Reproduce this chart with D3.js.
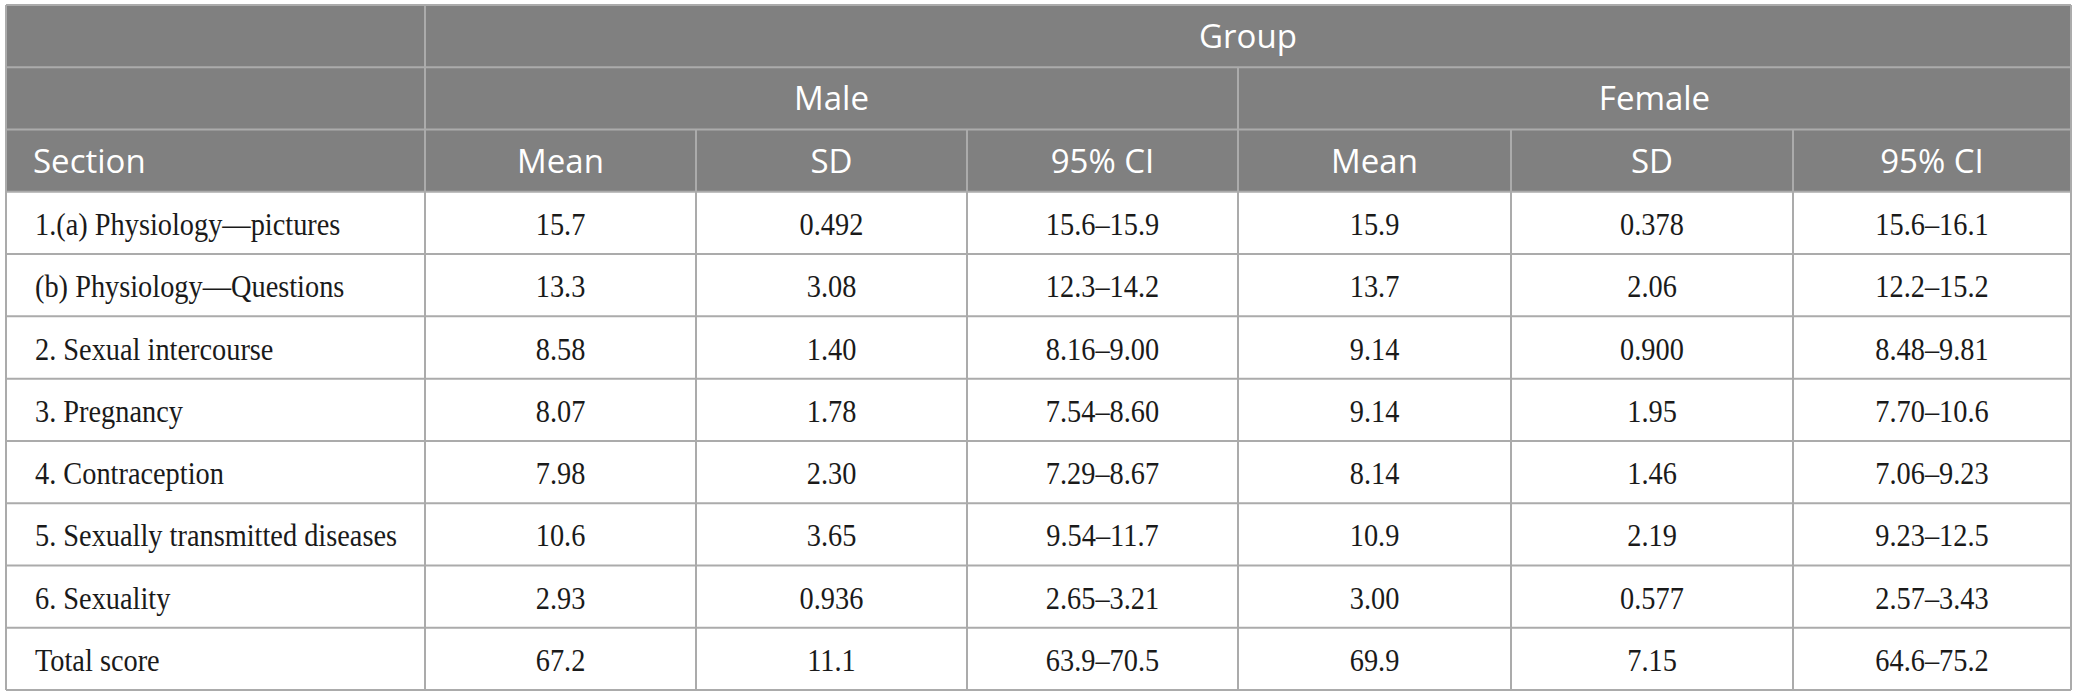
<!DOCTYPE html>
<html>
<head>
<meta charset="utf-8">
<script src="https://cdn.jsdelivr.net/npm/d3@7"></script>
<style>
  body { margin: 0; background: #fff; }
  svg { display: block; }
</style>
</head>
<body>
<svg width="2078" height="698"></svg>
<script>
// table contents
const sections = [
  '1.(a) Physiology—pictures',
  '(b) Physiology—Questions',
  '2. Sexual intercourse',
  '3. Pregnancy',
  '4. Contraception',
  '5. Sexually transmitted diseases',
  '6. Sexuality',
  'Total score'
];
const maleMean   = ['15.7', '13.3', '8.58', '8.07', '7.98', '10.6', '2.93', '67.2'];
const maleSD     = ['0.492', '3.08', '1.40', '1.78', '2.30', '3.65', '0.936', '11.1'];
const maleCI     = ['15.6–15.9', '12.3–14.2', '8.16–9.00', '7.54–8.60', '7.29–8.67', '9.54–11.7', '2.65–3.21', '63.9–70.5'];
const femaleMean = ['15.9', '13.7', '9.14', '9.14', '8.14', '10.9', '3.00', '69.9'];
const femaleSD   = ['0.378', '2.06', '0.900', '1.95', '1.46', '2.19', '0.577', '7.15'];
const femaleCI   = ['15.6–16.1', '12.2–15.2', '8.48–9.81', '7.70–10.6', '7.06–9.23', '9.23–12.5', '2.57–3.43', '64.6–75.2'];

const groupLabel = 'Group';
const sexLabels = ['Male', 'Female'];
const statLabels = ['Mean', 'SD', '95% CI'];
const sectionLabel = 'Section';

(function (d3) {
  'use strict';

  const svg = d3.select('svg');
  const width = +svg.attr('width');
  const height = +svg.attr('height');

  // layout
  const tLeft = 6, tRight = 2071, tTop = 5, tBottom = 690;
  const colWidths = [419, 271, 271, 271, 273, 282, 278];
  const colEdges = [tLeft];
  colWidths.forEach(w => colEdges.push(colEdges[colEdges.length - 1] + w));
  const x = i => colEdges[i];

  const nHeader = 3;
  const nRows = nHeader + sections.length;
  const yScale = d3.scaleBand()
    .domain(d3.range(nRows))
    .range([tTop, tBottom]);
  const rowH = yScale.bandwidth();
  const rowY = r => (r < nRows ? yScale(r) : tBottom);

  const headFill = '#808080';
  const lineCol = '#ababab';
  const bodyFont = '"Liberation Serif", "Times New Roman", serif';
  const headFont = '"Open Sans", "Noto Sans", sans-serif';

  svg.append('rect').attr('width', width).attr('height', height).attr('fill', '#fff');

  // header background
  svg.append('rect')
    .attr('x', tLeft).attr('y', tTop)
    .attr('width', tRight - tLeft)
    .attr('height', yScale(nHeader) - tTop)
    .attr('fill', headFill);

  const columns = [maleMean, maleSD, maleCI, femaleMean, femaleSD, femaleCI];
  const body = sections.map((s, i) => [s].concat(columns.map(c => c[i])));

  // grid lines
  const lines = svg.append('g')
    .attr('stroke', lineCol)
    .attr('stroke-width', 2);

  d3.range(nRows + 1).forEach(r => {
    lines.append('line')
      .attr('x1', tLeft).attr('x2', tRight)
      .attr('y1', rowY(r)).attr('y2', rowY(r));
  });

  // vertical dividers and the first header row each one starts at
  const vSegments = [
    { col: 0, from: 0 }, { col: 7, from: 0 }, { col: 1, from: 0 },
    { col: 4, from: 1 },
    { col: 2, from: 2 }, { col: 3, from: 2 }, { col: 5, from: 2 }, { col: 6, from: 2 }
  ];
  vSegments.forEach(s => {
    lines.append('line')
      .attr('x1', x(s.col)).attr('x2', x(s.col))
      .attr('y1', rowY(s.from))
      .attr('y2', tBottom);
  });

  // header text
  const head = svg.append('g')
    .attr('fill', '#fff')
    .attr('font-family', headFont)
    .attr('font-size', 33);

  const base = r => yScale(r) + rowH / 2 + 12;

  head.append('text')
    .attr('x', (x(1) + x(7)) / 2)
    .attr('y', base(0))
    .attr('text-anchor', 'middle')
    .text(groupLabel);

  head.selectAll('.sex').data(sexLabels)
    .enter().append('text')
      .attr('class', 'sex')
      .attr('x', (d, i) => (x(1 + i * 3) + x(4 + i * 3)) / 2)
      .attr('y', base(1))
      .attr('text-anchor', 'middle')
      .text(d => d);

  head.append('text')
    .attr('x', 33)
    .attr('y', base(2))
    .text(sectionLabel);

  head.selectAll('.stat').data(d3.range(6))
    .enter().append('text')
      .attr('class', 'stat')
      .attr('x', i => (x(i + 1) + x(i + 2)) / 2)
      .attr('y', base(2))
      .attr('text-anchor', 'middle')
      .text(i => statLabels[i % 3]);

  // body text
  const bodyG = svg.append('g')
    .attr('fill', '#1a1a1a')
    .attr('font-family', bodyFont)
    .attr('font-size', 31.5);

  body.forEach((row, ri) => {
    const yy = base(nHeader + ri);
    row.forEach((cell, ci) => {
      const xx = ci === 0 ? 35 : (x(ci) + x(ci + 1)) / 2;
      bodyG.append('text')
        .attr('transform', `translate(${xx},${yy}) scale(0.9,1)`)
        .attr('text-anchor', ci === 0 ? 'start' : 'middle')
        .text(cell);
    });
  });
}(d3));
</script>
</body>
</html>
